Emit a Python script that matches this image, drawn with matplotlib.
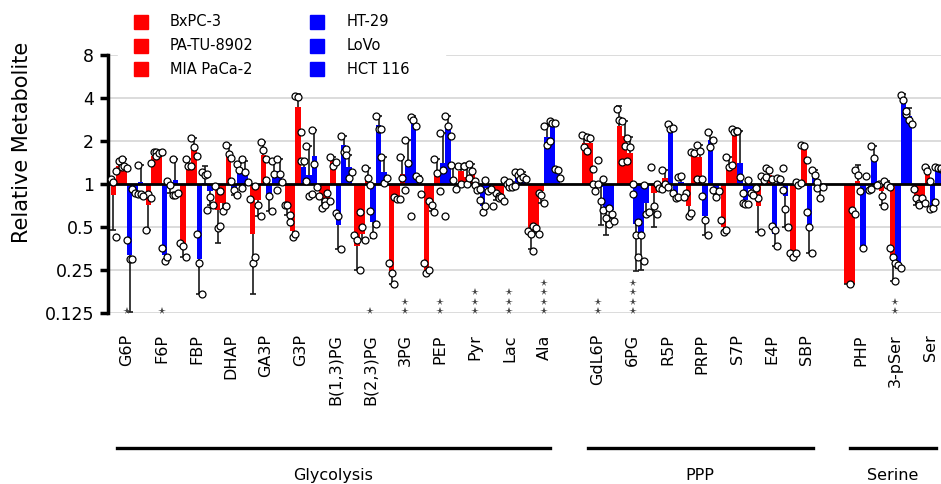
import numpy as np
import matplotlib
matplotlib.use("Agg")
import matplotlib.pyplot as plt
from matplotlib.patches import Rectangle

nan = np.nan

# categories
metabolites = ["G6P", "F6P", "FBP", "DHAP", "GA3P", "G3P", "B(1,3)PG", "B(2,3)PG",
               "3PG", "PEP", "Pyr", "Lac", "Ala",
               "GdL6P", "6PG", "R5P", "PRPP", "S7P", "E4P", "SBP",
               "PHP", "3-pSer", "Ser"]
pathways = ["Glycolysis", "PPP", "Serine"]
pathway_size = [13, 7, 3]
stars = ["*", "*", "", "", "", "", "", "*", "**", "**", "***", "***", "****",
         "**", "****", "", "", "", "", "", "", "**", ""]

cell_lines = ["BxPC-3", "PA-TU-8902", "MIA PaCa-2", "HT-29", "LoVo", "HCT 116"]
cell_colors = ["#ff0000", "#ff0000", "#ff0000", "#0000ff", "#0000ff", "#0000ff"]

# mean, error-bar end (mean +/- SD) and replicate points, per cell line
bxpc3_mean = [0.84, 0.71, 0.35, 0.66, 0.45, 0.72, 0.80, 0.37, 0.245, 0.25, 1.23, 0.865, 0.44,
              1.94, 2.53, 0.87, 0.70, 0.50, 0.70, 0.34, 0.20, 0.89, 0.78]
bxpc3_tip = [0.48, 0.48, 0.31, 0.39, 0.17, 0.61, 0.68, 0.25, 0.20, 0.24, 1.34, 0.78, 0.35,
             2.25, 3.5, 0.50, 0.60, 0.46, 0.46, 0.31, 0.20, 0.72, 0.72]
bxpc3_pts = [[1.09, 1.04, 0.43], [0.48, 0.86, 0.80], [0.39, 0.37, 0.31], [0.97, 0.49, 0.51],
             [0.79, 0.28, 0.31], [0.72, 0.71, 0.61], [0.82, 0.68, 0.76], [0.44, 0.41, 0.25],
             [0.28, 0.24, 0.20], [0.28, 0.24, 0.25], [1.34, 1.00, 1.33], [0.70, 0.865, 0.82],
             [0.47, 0.45, 0.34], [2.21, 1.82, 1.70], [3.37, 2.79, 1.42], [1.31, 0.70, 0.62],
             [0.865, 0.60, 0.63], [0.56, 0.46, 0.48], [0.94, 0.80, 0.46], [0.33, 0.31, 0.33],
             [nan, nan, 0.20], [1.00, 0.83, 0.70], [0.93, 0.80, 0.74]]

patu_mean = [1.34, 1.58, 1.33, 0.74, 0.78, 0.47, 0.80, 0.45, 0.80, 0.73, 1.13, 0.84, 0.47,
             1.94, 2.18, 0.95, 1.58, 1.29, 1.10, 1.02, 0.20, 1.00, 0.78]
patu_tip = [1.46, 1.69, 1.50, 0.65, 0.60, 0.43, 0.72, 0.41, 0.79, 0.65, 1.34, 0.78, 0.45,
            2.15, 2.75, 0.92, 1.70, 1.55, 1.16, 1.04, 0.20, 1.05, 0.70]
patu_pts = [[1.23, 1.46, 1.32], [1.40, 1.69, 1.67], [1.50, 1.33, 1.33], [0.89, 0.65, 0.70],
            [0.97, 0.72, 0.60], [0.54, 0.43, 0.45], [0.72, 0.87, 0.76], [0.64, 0.50, 0.41],
            [0.81, 0.79, 0.79], [0.76, 0.71, 0.64], [1.34, 1.00, 1.10], [0.80, 0.81, 0.76],
            [0.51, 0.49, 0.45], [2.15, 2.10, 1.28], [2.75, 1.86, 1.44], [1.00, 0.94, 0.93],
            [1.67, 1.65, 1.08], [1.55, 1.31, 1.37], [1.14, 1.07, 1.13], [1.04, 0.99, 1.02],
            [nan, 0.66, 0.62], [1.05, 0.98, 0.95], [0.72, 0.80, 0.74]]

mia_mean = [1.34, 1.56, 1.74, 1.69, 1.60, 3.46, 1.46, 1.13, 1.18, 1.18, 1.18, 1.01, 0.89,
            0.97, 1.65, 1.10, 1.56, 2.34, 1.16, 1.76, 1.05, 0.30, 1.19]
mia_tip = [1.50, 1.69, 2.10, 1.89, 1.98, 4.3, 1.56, 1.29, 1.54, 1.50, 1.39, 1.07, 0.74,
           0.90, 2.15, 1.26, 1.89, 2.45, 1.30, 1.90, 1.36, 0.21, 1.32]
mia_pts = [[1.50, 1.34, 1.30], [1.58, 1.65, 1.69], [2.10, 1.81, 1.58], [1.89, 1.63, 1.52],
           [1.98, 1.72, 1.50], [4.11, 4.08, 2.30], [1.56, 1.34, 1.42], [1.29, 1.11, 0.99],
           [1.54, 1.11, 0.91], [1.50, 1.19, 0.90], [1.39, 1.23, 1.05], [1.07, 1.00, 0.96],
           [0.87, 0.84, 0.74], [1.00, 0.90, 1.00], [2.10, 1.81, 1.00], [1.26, 1.00, 0.95],
           [1.89, 1.71, 1.08], [2.43, 2.30, 2.36], [1.29, 1.26, 1.08], [1.89, 1.86, 1.48],
           [1.26, 1.16, 0.90], [0.36, 0.31, 0.21], [1.32, 1.24, 1.05]]

ht29_mean = [0.32, 0.32, 0.30, 0.94, 0.80, 1.32, 0.52, 0.54, 1.40, 1.40, 0.94, 1.00, 2.13,
             0.96, 0.53, 2.34, 0.60, 1.40, 0.45, 0.50, 0.36, 0.27, 0.67]
ht29_tip = [0.127, 0.29, 0.17, 0.84, 0.65, 1.48, 0.35, 0.42, 2.02, 2.27, 0.91, 1.04, 2.53,
            0.52, 0.245, 2.63, 0.44, 2.34, 0.37, 0.33, 0.36, 0.26, 0.66]
ht29_pts = [[0.41, 0.30, 0.30], [0.36, 0.29, 0.31], [0.45, 0.28, 0.17], [1.06, 0.91, 0.84],
            [1.07, 0.82, 0.65], [1.46, 1.46, 1.05], [0.63, 0.60, 0.35], [0.65, 0.44, 0.53],
            [2.02, 1.40, 0.60], [2.27, 1.26, 0.60], [0.99, 0.91, 0.93], [1.04, 0.96, 0.97],
            [2.53, 1.89, 1.99], [1.48, 0.76, 0.66], [0.86, 0.44, 0.31], [2.63, 2.43, 2.47],
            [0.83, 0.56, 0.44], [2.34, 1.13, 0.74], [0.51, 0.48, 0.37], [0.64, 0.505, 0.33],
            [nan, 0.36, nan], [0.28, 0.27, 0.26], [0.67, 0.68, 0.75]]

lovo_mean = [0.90, 0.96, 1.02, 1.21, 1.13, 1.16, 1.88, 2.60, 2.82, 2.50, 0.70, 1.13, 2.67,
             0.66, 0.45, 0.82, 2.04, 0.78, 1.03, 1.13, 0.98, 3.90, 1.25]
lovo_tip = [0.86, 0.87, 1.33, 1.40, 1.44, 1.84, 2.18, 2.98, 2.98, 3.00, 0.64, 1.21, 2.75,
            0.44, 0.25, 0.80, 2.30, 0.74, 1.11, 1.25, 0.90, 4.3, 1.32]
lovo_pts = [[0.93, 0.87, 0.86], [1.06, 0.98, 0.84], [1.21, 1.16, 0.66], [1.38, 1.26, 0.94],
            [1.44, 1.18, 0.91], [1.84, 0.82, 0.85], [2.18, 1.67, 1.76], [2.98, 2.43, 2.44],
            [2.96, 2.82, 2.53], [3.00, 2.53, 2.18], [0.77, 0.64, 0.70], [1.21, 1.16, 1.08],
            [2.75, 2.67, 2.67], [1.08, 0.58, 0.53], [0.54, 0.44, 0.29], [0.87, 0.80, 0.81],
            [2.30, 1.81, 2.04], [0.865, 0.73, 0.73], [1.11, 1.08, 0.91], [1.25, 1.15, 1.03],
            [1.14, 0.91, 0.93], [4.20, 3.90, 3.10], [1.32, 1.30, 1.28]]

hct116_mean = [1.04, 1.07, 0.89, 1.16, 1.23, 1.58, 1.32, 1.21, 1.03, 1.10, 0.94, 1.07, 1.26,
               0.66, 0.74, 1.04, 0.89, 0.92, 0.82, 0.91, 1.52, 3.00, 1.20]
hct116_tip = [1.35, 1.50, 0.71, 1.45, 1.50, 2.38, 1.61, 1.54, 1.14, 1.36, 0.89, 1.21, 1.30,
              0.58, 0.60, 1.14, 0.85, 0.84, 0.50, 0.80, 1.86, 3.40, 1.30]
hct116_pts = [[1.35, 0.86, 0.83], [1.50, 0.84, 0.87], [1.18, 0.81, 0.71], [1.50, 1.21, 1.03],
              [1.50, 1.18, 1.03], [2.38, 1.39, 0.95], [1.61, 1.11, 1.21], [1.54, 1.02, 1.10],
              [1.14, 1.08, 0.86], [1.36, 1.07, 0.92], [1.07, 0.89, 0.92], [1.21, 1.12, 1.08],
              [1.27, 1.26, 1.11], [0.68, 0.62, 0.55], [0.99, 0.62, 0.64], [1.13, 1.14, 0.81],
              [0.91, 0.81, 0.89], [1.07, 0.865, 0.84], [1.29, 0.67, 0.50], [0.94, 0.80, 0.96],
              [1.86, 1.52, 0.98], [3.27, 2.80, 2.63], [1.30, 1.25, 1.18]]

yticks = [0.125, 0.25, 0.5, 1, 2, 4, 8]
ytick_labels = ["0.125", "0.25", "0.5", "1", "2", "4", "8"]

means = [bxpc3_mean, patu_mean, mia_mean, ht29_mean, lovo_mean, hct116_mean]
tips = [bxpc3_tip, patu_tip, mia_tip, ht29_tip, lovo_tip, hct116_tip]
points = [bxpc3_pts, patu_pts, mia_pts, ht29_pts, lovo_pts, hct116_pts]

plt.rcParams['font.family'] = ['DejaVu Sans']

# x positions: one slot per metabolite, a gap between pathways
pos = []
start = 0.0
spans = []
for n in pathway_size:
    block = start + np.arange(n)
    pos.extend(block)
    spans.append((block[0], block[-1]))
    start = block[-1] + 1.55
pos = np.array(pos)

fig = plt.figure(figsize=(9.41, 4.84), dpi=100)
ax = fig.add_axes([0.1148, 0.3527, 0.892, 0.5337])
ax.set_yscale('log', base=2)

w = 0.156
for k in range(6):
    x = pos + (k - 2.5) * w
    m = np.array(means[k])
    t = np.array(tips[k])
    ax.bar(x, m - 1, bottom=1, width=w, color=cell_colors[k], linewidth=0, zorder=2)
    ax.vlines(x, m, t, color='#1a1a1a', lw=1.2, zorder=3)
    ax.plot(x, t, ls='none', marker='_', ms=4, mew=1.2, color='#1a1a1a', zorder=3)
    p = np.array(points[k])
    for j in range(p.shape[1]):
        ax.plot(x + (j - 1) * 0.5 * w, p[:, j], ls='none', marker='o', ms=5,
                mfc='white', mec='black', mew=0.9, zorder=4)

ax.axhline(1, color='black', lw=2, zorder=2.5)

ax.set_ylim(0.125, 8)
ax.set_xlim(-0.547, 23.6)
ax.set_yticks(yticks)
ax.set_yticklabels(ytick_labels)
ax.minorticks_off()
ax.grid(axis='y', color='#d9d9d9', lw=1.3)
ax.set_axisbelow(True)
for s in ['top', 'right', 'bottom']:
    ax.spines[s].set_visible(False)
ax.spines['left'].set_linewidth(2.5)
ax.tick_params(axis='y', length=6, width=2.5, labelsize=12.5, pad=4)
ax.set_xticks(pos)
ax.set_xticklabels(metabolites, rotation=90, fontsize=11.5, va='top', ha='center')
ax.tick_params(axis='x', length=0, pad=15)

# significance stars
tr = ax.get_xaxis_transform()
for p, s in zip(pos, stars):
    for i in range(len(s)):
        ax.plot(p, 0.008 + i * 0.0366, marker='*', ms=5.5, color='#444444', ls='none',
                mew=0, transform=tr, clip_on=False, zorder=5)

# pathway brackets
for (a, b), name in zip(spans, pathways):
    ax.plot([a - 0.3, b + 0.17], [-0.523, -0.523], color='black', lw=2.4,
            transform=tr, clip_on=False)
    ax.text((a - 0.3 + b + 0.17) / 2, -0.627, name, transform=tr, ha='center',
            va='center', fontsize=11.5)

fig.text(22 / 941, 1 - 142 / 484, 'Relative Metabolite', rotation=90,
         ha='center', va='center', fontsize=15)

# legend
W, H = 941, 484
fig.add_artist(Rectangle((118 / W, 1 - 84 / H), (445 - 118) / W, 84 / H,
                         transform=fig.transFigure, color='white', zorder=3))
rows = [21.7, 45.7, 69.0]
for k, name in enumerate(cell_lines):
    col = k // 3
    yc = rows[k % 3]
    xs = [134, 310][col]
    xt = [170, 347][col]
    fig.add_artist(Rectangle((xs / W, 1 - (yc + 7) / H), 14 / W, 14 / H,
                             transform=fig.transFigure, color=cell_colors[k], zorder=4))
    fig.text(xt / W, 1 - yc / H, name, ha='left', va='center', fontsize=10.5, zorder=4)

fig.savefig('out.png', dpi=100)
